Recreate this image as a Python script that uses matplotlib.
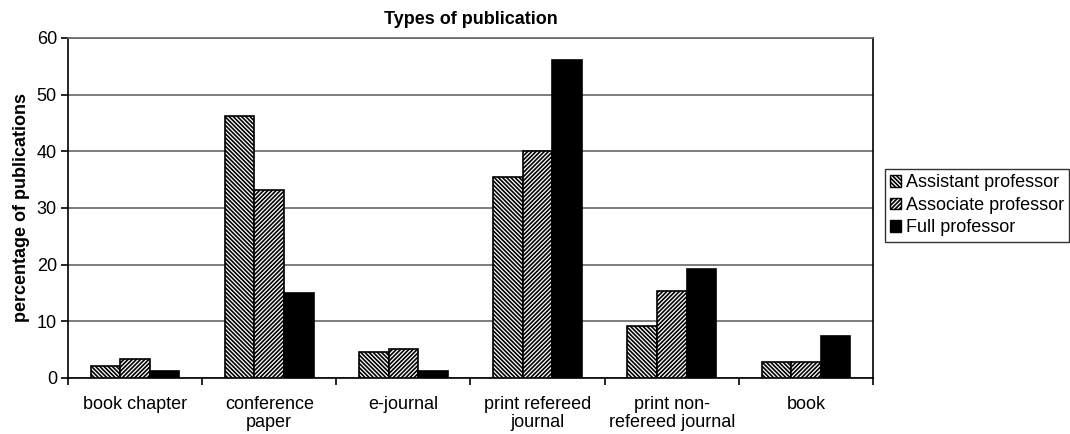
import numpy as np
import matplotlib.pyplot as plt
from matplotlib.patches import Patch

plt.rcParams['font.family'] = ['Liberation Sans', 'DejaVu Sans']
plt.rcParams['hatch.linewidth'] = 1.2

categories = ['book chapter', 'conference\npaper', 'e-journal', 'print refereed\njournal',
              'print non-\nrefereed journal', 'book']
assistant = [2.2, 46.2, 4.6, 35.5, 9.2, 2.8]
associate = [3.3, 33.2, 5.2, 40.1, 15.4, 2.8]
full = [1.2, 15.0, 1.2, 56.1, 19.2, 7.4]

series = [('Assistant professor', assistant, 'white', '\\' * 8),
          ('Associate professor', associate, 'white', '/' * 8),
          ('Full professor', full, 'black', None)]

fig = plt.figure(figsize=(10.7, 4.34), dpi=100)
ax = fig.add_axes([68 / 1070, 56 / 434, (873 - 68) / 1070, (378 - 38) / 434])

x = np.arange(len(categories))
w = 0.22
for i, (name, vals, fc, hatch) in enumerate(series):
    ax.bar(x + (i - 1) * w, vals, w, facecolor=fc, edgecolor='black', hatch=hatch,
           linewidth=1.2, zorder=3)

ax.set_xlim(-0.5, len(categories) - 0.5)
ax.set_ylim(0, 60)
ax.set_yticks(range(0, 61, 10))
ax.yaxis.grid(True, color='#666666', linewidth=1.2, zorder=0)

# ticks at group boundaries, labels centred under groups
ax.set_xticks(np.arange(len(categories) + 1) - 0.5)
ax.set_xticklabels([])
ax.set_xticks(x, minor=True)
ax.set_xticklabels(categories, minor=True, fontsize=13, linespacing=1.05)
ax.tick_params(axis='x', which='minor', length=0, pad=13)
ax.tick_params(axis='x', which='major', length=5, width=1.2, direction='out')
ax.tick_params(axis='y', length=5, width=1.2, direction='out', labelsize=13, pad=3)

for s in ax.spines.values():
    s.set_linewidth(1.2)
ax.spines['top'].set_color('#666666')

ax.set_ylabel('percentage of publications', fontsize=13, fontweight='bold', labelpad=5)
ax.set_title('Types of publication', fontsize=13, fontweight='bold', pad=10)

handles = [Patch(facecolor=fc, edgecolor='black', hatch=h, label=n)
           for n, _, fc, h in series]
fig.legend(handles=handles, loc='upper left', bbox_to_anchor=(885 / 1070, (434 - 169) / 434),
           frameon=True, fancybox=False, edgecolor='black', fontsize=13,
           handlelength=0.6, handleheight=0.6, handletextpad=0.25, borderpad=0.3,
           labelspacing=0.3, borderaxespad=0)

fig.savefig('out.png', dpi=100)
